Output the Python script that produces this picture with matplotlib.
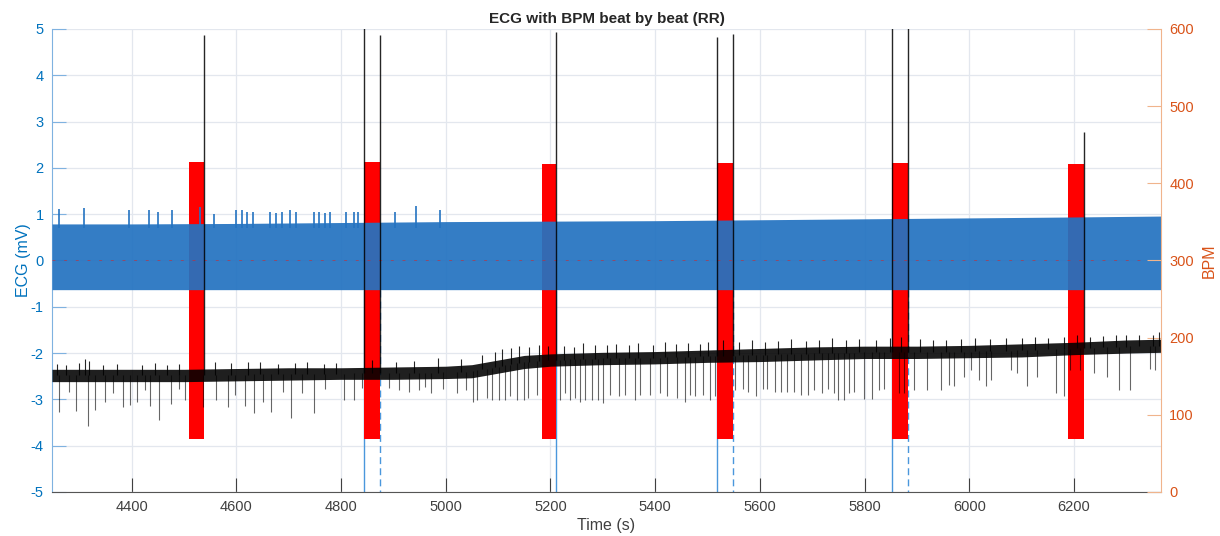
import matplotlib
matplotlib.use("Agg")
import matplotlib.pyplot as plt

plt.rcParams['font.family'] = ['Liberation Sans', 'DejaVu Sans']
plt.rcParams['axes.unicode_minus'] = False

# ---------------- data ----------------
# ECG trace envelope (mV)
ecg_env_time = [4248, 4400, 4600, 4800, 5000, 5200, 5400, 5600, 5800, 6000, 6200, 6366]
ecg_env_top = [0.79, 0.79, 0.80, 0.82, 0.84, 0.85, 0.86, 0.88, 0.90, 0.92, 0.94, 0.96]
ecg_env_bottom = [-0.63, -0.63, -0.63, -0.63, -0.63, -0.63, -0.63, -0.63, -0.63, -0.63, -0.63, -0.63]

# isolated R-peaks above the ECG band (s, mV)
ecg_peak_time = [4261, 4310, 4395, 4434, 4450, 4477, 4530, 4558, 4599, 4611, 4620, 4631,
                 4664, 4676, 4687, 4702, 4715, 4749, 4758, 4770, 4779, 4809, 4825, 4833,
                 4904, 4944, 4989]
ecg_peak_mv = [1.11, 1.13, 1.09, 1.09, 1.05, 1.10, 1.15, 1.00, 1.10, 1.08, 1.05, 1.05,
               1.05, 1.03, 1.05, 1.08, 1.05, 1.05, 1.05, 1.03, 1.05, 1.05, 1.05, 1.05,
               1.05, 1.17, 1.08]

# artifact segments in the ECG (s, mV)
seg_start = [4510, 4844, 5183, 5518, 5853, 6189]
seg_end = [4539, 4874, 5211, 5549, 5882, 6219]
seg_top = [2.13, 2.12, 2.09, 2.11, 2.10, 2.08]
seg_bottom = [-3.86, -3.86, -3.86, -3.86, -3.86, -3.86]

# ECG drops at segment boundaries (s, mV)
drop_time = [4844, 4874, 5211, 5518, 5549, 5853, 5882]
drop_mv = [-5.2, -5.2, -5.2, -5.2, -5.2, -5.2, -5.2]
drop_dashed = [False, True, False, False, True, False, True]

# beat-by-beat heart rate envelope (s, BPM)
bpm_time = [4248, 4400, 4500, 4600, 4700, 4800, 4900, 5000, 5050, 5100, 5150, 5200,
            5300, 5400, 5500, 5600, 5700, 5800, 5900, 6000, 6100, 6200, 6300, 6366]
bpm_low = [143, 143, 143, 144, 145, 146, 146, 147, 148, 154, 160, 163,
           165, 166, 168, 169, 171, 173, 173, 174, 175, 178, 180, 181]
bpm_high = [159, 159, 159, 160, 161, 161, 162, 163, 165, 171, 177, 179,
            181, 182, 184, 186, 188, 189, 189, 190, 192, 194, 197, 198]

# beats above the running level (s, BPM)
tip_time = [4258, 4275, 4300, 4312, 4318, 4345, 4372, 4420, 4445, 4468, 4490, 4560,
            4590, 4622, 4645, 4680, 4712, 4735, 4768, 4790, 4860, 4905, 4940, 4985,
            5030, 5070, 5095, 5108, 5125, 5140, 5160, 5178, 5195, 5225, 5245, 5262,
            5285, 5308, 5325, 5350, 5368, 5395, 5418, 5440, 5462, 5485, 5500, 5530,
            5560, 5585, 5610, 5635, 5660, 5688, 5712, 5738, 5765, 5790, 5822, 5848,
            5870, 5905, 5930, 5955, 5985, 6010, 6040, 6070, 6100, 6125, 6150, 6180,
            6205, 6230, 6255, 6280, 6300, 6325, 6350, 6362]
tip_bpm = [166, 165, 167, 172, 170, 165, 166, 165, 167, 165, 166, 168,
           167, 169, 168, 166, 167, 169, 166, 167, 171, 169, 170, 173,
           172, 177, 181, 185, 187, 189, 188, 191, 189, 189, 188, 193,
           191, 190, 192, 190, 193, 191, 194, 192, 193, 192, 195, 197,
           195, 197, 194, 196, 198, 196, 197, 199, 197, 198, 197, 199,
           201, 198, 197, 197, 198, 200, 198, 199, 199, 201, 200, 201,
           204, 201, 202, 203, 203, 204, 203, 207]

# short RR outliers (dips in heart rate) (s, BPM)
dip_time = [4262, 4294, 4316, 4331, 4349, 4384, 4397, 4411, 4436, 4452, 4476, 4502,
            4537, 4561, 4584, 4616, 4634, 4651, 4667, 4704, 4749, 4806, 4825, 4891,
            4930, 4949, 4971, 5022, 5038, 5053, 5060, 5079, 5088, 5101, 5114, 5122,
            5136, 5150, 5158, 5174, 5219, 5228, 5238, 5247, 5257, 5266, 5279, 5290,
            5301, 5314, 5330, 5342, 5361, 5371, 5390, 5409, 5422, 5441, 5457, 5466,
            5476, 5492, 5504, 5514, 5552, 5568, 5577, 5593, 5606, 5614, 5628, 5641,
            5652, 5666, 5679, 5692, 5704, 5719, 5730, 5742, 5749, 5760, 5771, 5780,
            5799, 5815, 5828, 5838, 5866, 5876, 5895, 5919, 5945, 5961, 5971, 5990,
            6003, 6019, 6031, 6041, 6079, 6092, 6111, 6130, 6165, 6181, 6193, 6212,
            6238, 6263, 6285, 6307, 6345, 6354,
            4280, 4365, 4425, 4490, 4598, 4690, 4725, 4770, 4840, 4910, 4960, 4995]
dip_bpm = [104, 105, 86, 106, 117, 110, 113, 117, 111, 93, 114, 119,
           110, 119, 110, 111, 102, 117, 104, 96, 102, 119, 119, 135,
           130, 132, 128, 128, 132, 117, 119, 122, 119, 119, 119, 124,
           119, 119, 122, 126, 119, 128, 119, 122, 117, 119, 119, 119,
           115, 126, 124, 126, 119, 126, 126, 128, 124, 122, 117, 126,
           124, 126, 119, 124, 132, 134, 130, 124, 134, 134, 130, 130,
           130, 130, 126, 126, 132, 128, 134, 128, 119, 119, 128, 130,
           121, 121, 132, 134, 128, 128, 132, 132, 132, 139, 137, 149,
           158, 145, 137, 145, 158, 154, 137, 149, 128, 124, 158, 158,
           154, 149, 132, 132, 160, 158,
           130, 128, 132, 134, 126, 130, 128, 133, 135, 132, 136, 134]

# spurious RR intervals (surges in heart rate) (s, BPM)
surge_time = [4539, 4844, 4874, 5211, 5518, 5549, 5853, 5882, 6219]
surge_bpm = [592, 640, 592, 596, 590, 594, 640, 640, 467]

x_ticks = [4400, 4600, 4800, 5000, 5200, 5400, 5600, 5800, 6000, 6200]
ecg_ticks = [-5, -4, -3, -2, -1, 0, 1, 2, 3, 4, 5]
bpm_ticks = [0, 100, 200, 300, 400, 500, 600]

# ---------------- styling ----------------
ECG_BLUE = '#0072BD'
BPM_ORANGE = '#D95319'
GREY = '#404040'

fig = plt.figure(figsize=(12.2, 5.36), dpi=100)
ax = fig.add_axes([0.0426, 0.0821, 0.9090, 0.8638])
ax2 = ax.twinx()
ax.set_zorder(1)
ax2.set_zorder(2)
ax2.patch.set_visible(False)

# ECG axis
for t, y, dashed in zip(drop_time, drop_mv, drop_dashed):
    ax.vlines(t, ecg_env_bottom[0], y, color='#4a97dc', lw=1.0,
              linestyles=(0, (5, 3)) if dashed else 'solid', zorder=1)
for s, e, top, bot in zip(seg_start, seg_end, seg_top, seg_bottom):
    ax.fill_between([s, e], [bot, bot], [top, top], color='#ff0000', lw=0, zorder=2)
ax.fill_between(ecg_env_time, ecg_env_bottom, ecg_env_top, color='#2473c1',
                lw=0, alpha=0.93, zorder=3)
ax.vlines(ecg_peak_time, 0.7, ecg_peak_mv, color='#2473c1', lw=1.2, zorder=3)
ax.axhline(0, color='#e02020', lw=0.7, ls=(0, (3, 9)), alpha=0.55, zorder=4)

ax.set_xlim(4248, 6366)
ax.set_ylim(-5, 5)
ax.set_xticks(x_ticks)
ax.set_yticks(ecg_ticks)
ax.grid(True, color='#e3e7ee', lw=0.9, zorder=0)
ax.set_axisbelow(True)

ax.tick_params(axis='y', direction='in', length=10, width=0.8, colors='#7fb2e0',
               labelcolor=ECG_BLUE, labelsize=10.5, pad=6)
ax.tick_params(axis='x', direction='in', length=10, width=0.8, colors=GREY,
               labelcolor=GREY, labelsize=10.5, pad=6)
ax.set_ylabel('ECG (mV)', color=ECG_BLUE, fontsize=11.5, labelpad=0)
ax.set_xlabel('Time (s)', color=GREY, fontsize=11.5, labelpad=3)
ax.spines['top'].set_visible(False)
ax.spines['right'].set_visible(False)
ax.spines['left'].set_color('#7fb2e0')
ax.spines['bottom'].set_color('#555555')

# BPM axis
ax2.fill_between(bpm_time, bpm_low, bpm_high, color='black', lw=0, alpha=0.88)
core_mid = {t: (lo + hi) / 2 for t, lo, hi in zip(bpm_time, bpm_low, bpm_high)}


def level_at(t):
    # running level of the heart rate at time t, from the envelope knots
    for (t0, t1) in zip(bpm_time[:-1], bpm_time[1:]):
        if t0 <= t <= t1:
            f = (t - t0) / (t1 - t0)
            return core_mid[t0] + f * (core_mid[t1] - core_mid[t0])
    return core_mid[bpm_time[-1]]


for t, b in zip(tip_time, tip_bpm):
    ax2.vlines(t, level_at(t), b, color='black', lw=0.8, alpha=0.85)
for t, b in zip(dip_time, dip_bpm):
    ax2.vlines(t, b, level_at(t), color='black', lw=0.8, alpha=0.6)
for t, b in zip(surge_time, surge_bpm):
    ax2.vlines(t, level_at(t), b, color='black', lw=1.0, alpha=0.85)

ax2.set_ylim(0, 600)
ax2.set_yticks(bpm_ticks)
ax2.tick_params(axis='y', direction='in', length=10, width=0.8, colors='#f0b48c',
                labelcolor=BPM_ORANGE, labelsize=10.5, pad=6)
ax2.set_ylabel('BPM', color=BPM_ORANGE, fontsize=11.5, labelpad=6)
for side in ('top', 'left', 'bottom'):
    ax2.spines[side].set_visible(False)
ax2.spines['right'].set_color('#f0b48c')

ax.set_title('ECG with BPM beat by beat (RR)', fontsize=11, fontweight='bold',
             color='#262626', pad=4)

fig.savefig('out.png', dpi=100)
